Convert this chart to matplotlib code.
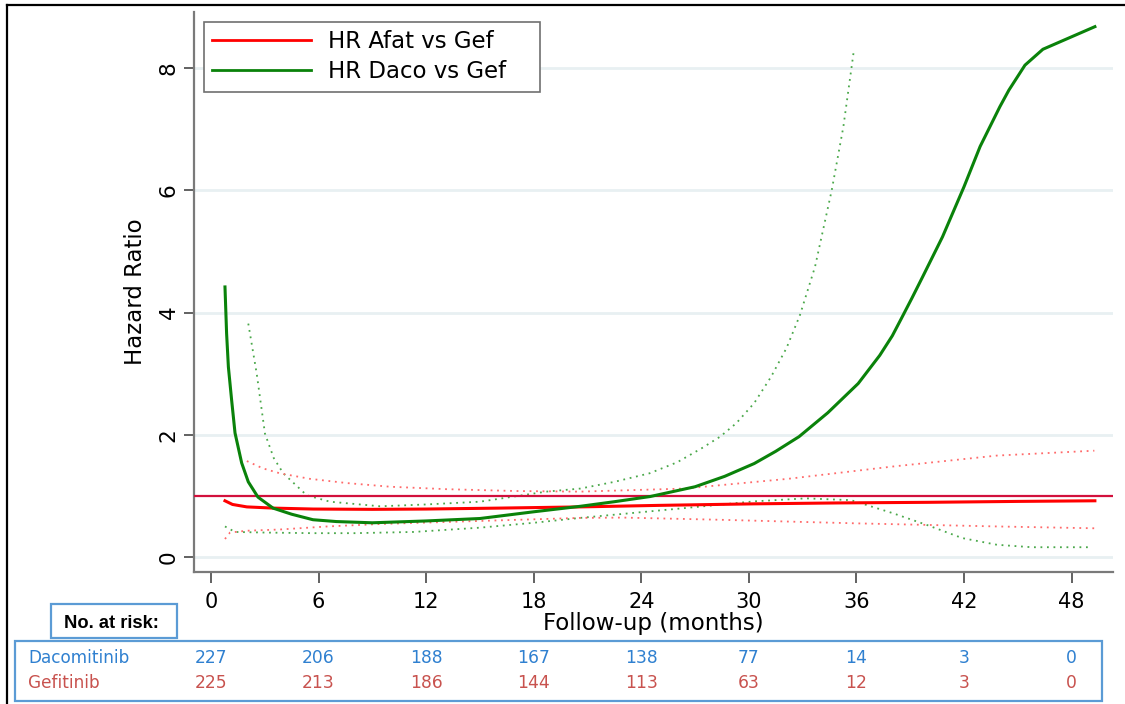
import matplotlib
matplotlib.use("Agg")
import matplotlib.pyplot as plt
from matplotlib.patches import Rectangle
from matplotlib.lines import Line2D
import matplotlib.transforms as mtransforms

plt.rcParams['font.family'] = ['DejaVu Sans']

# ---------------- data ----------------
daco_t = [0.78, 0.87, 0.97, 1.15, 1.34, 1.71, 2.08, 2.62, 3.46, 4.5, 5.69, 7.0, 9.0, 12.0,
          15.0, 18.0, 20.6, 22.5, 24.5, 27.0, 28.65, 30.3, 31.5, 32.8, 34.4, 36.1, 37.3,
          38.0, 38.5, 39.1, 39.7, 40.8, 42.0, 42.9, 44.0, 44.5, 45.4, 46.4, 49.3]
daco_hr = [4.42, 3.66, 3.11, 2.57, 2.03, 1.54, 1.23, 0.98, 0.80, 0.70, 0.61, 0.58, 0.56, 0.59,
           0.63, 0.74, 0.83, 0.905, 0.99, 1.15, 1.32, 1.53, 1.73, 1.97, 2.36, 2.84, 3.30,
           3.62, 3.90, 4.24, 4.59, 5.24, 6.06, 6.72, 7.37, 7.64, 8.05, 8.31, 8.68]

daco_up_t = [2.08, 2.55, 3.01, 3.5, 4.03, 5.34, 6.64, 9.43, 12.0, 15.0, 18.7, 20.6, 22.5,
             24.46, 26.0, 27.37, 28.4, 29.3, 30.3, 31.24, 32.1, 32.85, 33.69, 34.62, 35.27,
             35.73, 35.86]
daco_up = [3.82, 3.0, 2.02, 1.62, 1.37, 1.01, 0.905, 0.83, 0.86, 0.905, 1.07, 1.12, 1.23,
           1.37, 1.55, 1.78, 1.97, 2.19, 2.52, 2.95, 3.42, 3.96, 4.75, 6.0, 7.04, 8.02, 8.3]

daco_lo_t = [0.78, 1.34, 3.0, 5.69, 8.0, 11.3, 15.0, 18.0, 20.6, 26.4, 30.27, 33.18, 35.7,
             38.0, 39.97, 41.9, 43.84, 45.78, 49.08]
daco_lo = [0.50, 0.41, 0.40, 0.39, 0.39, 0.41, 0.48, 0.56, 0.64, 0.80, 0.91, 0.96, 0.93,
           0.72, 0.52, 0.31, 0.20, 0.16, 0.16]

afat_t = [0.78, 1.2, 2.0, 3.5, 5.7, 9.0, 12.0, 16.0, 20.6, 25.0, 30.3, 35.0, 40.0, 45.0, 49.3]
afat_hr = [0.92, 0.86, 0.82, 0.80, 0.785, 0.78, 0.785, 0.80, 0.82, 0.845, 0.87, 0.885, 0.895,
           0.91, 0.92]

afat_up_t = [2.0, 2.9, 3.84, 5.5, 7.58, 10.0, 13.14, 17.0, 20.6, 26.4, 32.2, 38.0, 43.84, 49.27]
afat_up = [1.57, 1.45, 1.37, 1.28, 1.21, 1.15, 1.11, 1.08, 1.07, 1.12, 1.28, 1.48, 1.66, 1.74]

afat_lo_t = [0.78, 1.06, 2.0, 3.84, 6.5, 9.43, 15.0, 20.6, 23.0, 28.3, 36.1, 43.84, 49.27]
afat_lo = [0.295, 0.40, 0.43, 0.45, 0.50, 0.54, 0.59, 0.64, 0.645, 0.61, 0.55, 0.50, 0.47]

ref_hr = 1.0

x_ticks = [0, 6, 12, 18, 24, 30, 36, 42, 48]
y_ticks = [0, 2, 4, 6, 8]

risk_times = [0, 6, 12, 18, 24, 30, 36, 42, 48]
risk_daco = [227, 206, 188, 167, 138, 77, 14, 3, 0]
risk_gef = [225, 213, 186, 144, 113, 63, 12, 3, 0]

# ---------------- figure ----------------
W, H = 1125, 704
fig = plt.figure(figsize=(W / 100, H / 100), dpi=100)

def fx(px):
    return px / W

def fy(py):
    return 1 - py / H

ax = fig.add_axes([fx(194), fy(572), fx(1113) - fx(194), fy(12) - fy(572)])
ax.set_xlim(-0.948, 50.31)
ax.set_ylim(-0.2455, 8.92)

# grid
for yv in y_ticks:
    ax.axhline(yv, color='#e8f0f2', lw=2, zorder=0)

green = '#0a820a'
red = '#ff0000'
dot_green = '#4aa84a'
dot_red = '#ff6a6a'
dots = (0, (1, 2.6))

ax.plot(daco_up_t, daco_up, color=dot_green, lw=1.3, ls=dots, zorder=2)
ax.plot(daco_lo_t, daco_lo, color=dot_green, lw=1.3, ls=dots, zorder=2)
ax.plot(afat_up_t, afat_up, color=dot_red, lw=1.3, ls=dots, zorder=2)
ax.plot(afat_lo_t, afat_lo, color=dot_red, lw=1.3, ls=dots, zorder=2)

ax.axhline(ref_hr, color='#d2103c', lw=1.6, zorder=3)

l1, = ax.plot(afat_t, afat_hr, color=red, lw=2.2, zorder=4, label='HR Afat vs Gef')
l2, = ax.plot(daco_t, daco_hr, color=green, lw=2.2, zorder=5, label='HR Daco vs Gef')

# spines & ticks
for s in ['top', 'right']:
    ax.spines[s].set_visible(False)
for s in ['left', 'bottom']:
    ax.spines[s].set_color('#7a7a7a')
    ax.spines[s].set_linewidth(1.6)

ax.set_xticks(x_ticks)
ax.set_yticks(y_ticks)
ax.tick_params(axis='x', length=7.7, width=1.3, color='#555555', pad=6.5, labelsize=15)
ax.tick_params(axis='y', length=7.2, width=1.3, color='#555555', pad=4, labelsize=15.5,
               labelrotation=90)
for lab in ax.get_yticklabels():
    lab.set_va('center')

ax.set_xlabel('Follow-up (months)', fontsize=16.5)
ax.xaxis.label.set_va('baseline')
ax.xaxis.set_label_coords(0.5, (572 - 630) / 560)

ax.set_ylabel('Hazard Ratio', fontsize=16.5)
ax.yaxis.label.set_va('center')
ax.yaxis.set_label_coords((135 - 194) / 919, 0.5)

leg = ax.legend(handles=[l1, l2], loc='upper left',
                bbox_to_anchor=(fx(204), fy(97), fx(540) - fx(204), fy(21.7) - fy(97)),
                bbox_transform=fig.transFigure, mode='expand', borderaxespad=0,
                fontsize=16.5, handlelength=4.3, handletextpad=0.75, labelspacing=0.3,
                borderpad=0.37, fancybox=False, framealpha=1, edgecolor='#707070')
leg.get_frame().set_linewidth(1.2)
for h in leg.legend_handles:
    h.set_linewidth(2.0)

# figure border (top & left)
fig.add_artist(Line2D([fx(7), 1], [fy(4.8), fy(4.8)], color='black', lw=1.6,
                      transform=fig.transFigure))
fig.add_artist(Line2D([fx(7), fx(7)], [fy(4.8), 0], color='black', lw=1.6,
                      transform=fig.transFigure))

# ---------------- number at risk table ----------------
box_col = '#5b9bd5'
daco_col = '#2f80d0'
gef_col = '#c8524e'

fig.add_artist(Rectangle((fx(50.7), fy(637.7)), fx(176.7) - fx(50.7), fy(604) - fy(637.7),
                         transform=fig.transFigure, fill=False, edgecolor=box_col, lw=1.6))
fig.text(fx(111), fy(628.3), 'No. at risk:', ha='center', va='baseline',
         fontsize=13.2, fontweight='bold', family=['Liberation Sans', 'DejaVu Sans'])

fig.add_artist(Rectangle((fx(15), fy(700.5)), fx(1101.5) - fx(15), fy(641) - fy(700.5),
                         transform=fig.transFigure, fill=False, edgecolor=box_col, lw=1.6))

fig.text(fx(28), fy(662.7), 'Dacomitinib', ha='left', va='baseline', fontsize=12.2,
         color=daco_col)
fig.text(fx(28), fy(688), 'Gefitinib', ha='left', va='baseline', fontsize=12.2,
         color=gef_col)

blend = mtransforms.blended_transform_factory(ax.transData, fig.transFigure)
for t, n in zip(risk_times, risk_daco):
    ax.text(t, fy(662.7), str(n), ha='center', va='baseline', fontsize=12.3,
            color=daco_col, transform=blend, clip_on=False)
for t, n in zip(risk_times, risk_gef):
    ax.text(t, fy(688), str(n), ha='center', va='baseline', fontsize=12.3,
            color=gef_col, transform=blend, clip_on=False)

fig.savefig('out.png', dpi=100)
